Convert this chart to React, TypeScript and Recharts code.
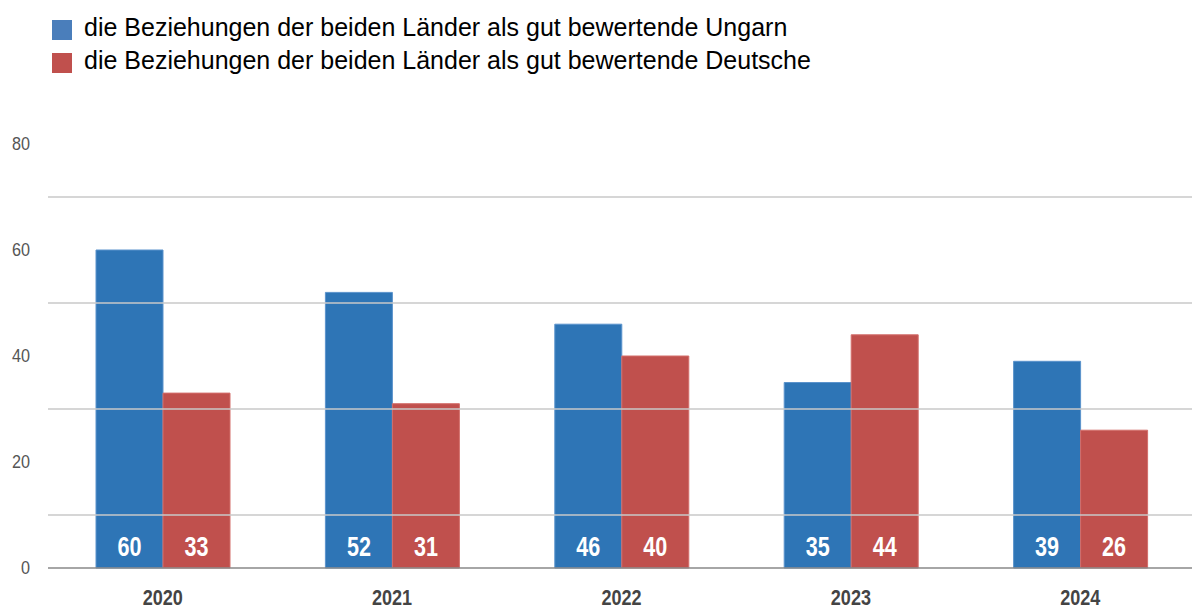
import { BarChart, Bar, XAxis, YAxis, ReferenceLine, LabelList } from "recharts";

const years = ["2020", "2021", "2022", "2023", "2024"];
const ungarn = [60, 52, 46, 35, 39];
const deutsche = [33, 31, 40, 44, 26];
const yTicks = [0, 20, 40, 60, 80];
const gridValues = [10, 30, 50, 70];

const seriesNames = [
  "die Beziehungen der beiden Länder als gut bewertende Ungarn",
  "die Beziehungen der beiden Länder als gut bewertende Deutsche",
];

const BLUE = "#2e75b6";
const RED = "#c0504d";
const FONT = '"Liberation Sans", Arial, sans-serif';

const chartData = years.map((year, i) => ({
  year,
  ungarn: ungarn[i],
  deutsche: deutsche[i],
}));

// condensed look: the original uses a narrow font, which is not installed
const XTick = (props: any) => {
  const { x, payload } = props;
  return (
    <text
      transform={`translate(${x},605) scale(0.82,1)`}
      textAnchor="middle"
      fill="#444"
      fontSize={22}
      fontWeight={700}
      fontFamily={FONT}
    >
      {payload.value}
    </text>
  );
};

const YTick = (props: any) => {
  const { y, payload } = props;
  return (
    <text
      transform={`translate(30,${y}) scale(0.9,1)`}
      textAnchor="end"
      dy="0.355em"
      fill="#555"
      fontSize={18}
      fontFamily={FONT}
    >
      {payload.value}
    </text>
  );
};

const BarValue = (props: any) => {
  const { x, y, width, height, value } = props;
  const cx = Number(x) + Number(width) / 2;
  const base = Number(y) + Number(height) - 12;
  return (
    <text
      transform={`translate(${cx},${base}) scale(0.8,1)`}
      textAnchor="middle"
      fill="#fff"
      fontSize={27}
      fontWeight={700}
      fontFamily={FONT}
    >
      {value}
    </text>
  );
};

const App = () => {
  return (
    <div style={{ position: "absolute", left: 0, top: 0, width: 1192, height: 608, overflow: "hidden", background: "#fff" }}>
      <div
        style={{
          position: "absolute",
          left: 52,
          top: 11,
          fontFamily: FONT,
          fontSize: 25,
          color: "#000",
          lineHeight: "33px",
        }}
      >
        {seriesNames.map((name, i) => (
          <div key={name} style={{ display: "flex", alignItems: "center", whiteSpace: "nowrap" }}>
            <span
              style={{
                display: "inline-block",
                width: 20,
                height: 20,
                marginTop: 4,
                marginRight: 12,
                background: i === 0 ? "#4a7ebb" : RED,
              }}
            />
            {name}
          </div>
        ))}
      </div>
      <BarChart
        width={1195}
        height={608}
        data={chartData}
        margin={{ top: 144, right: 0, bottom: 0, left: 0 }}
        barCategoryGap={48}
        barGap={0}
      >
        {gridValues.map((v) => (
          <ReferenceLine key={v} y={v} stroke="#c8c8c8" strokeWidth={1.5} />
        ))}
        <XAxis
          dataKey="year"
          height={40}
          axisLine={{ stroke: "#888", strokeWidth: 1.5 }}
          tickLine={false}
          tick={<XTick />}
        />
        <YAxis
          width={48}
          domain={[0, 80]}
          ticks={yTicks}
          axisLine={false}
          tickLine={false}
          tick={<YTick />}
        />
        <Bar dataKey="ungarn" fill={BLUE} stroke="#5b93cc" strokeWidth={1} isAnimationActive={false}>
          <LabelList dataKey="ungarn" content={<BarValue />} />
        </Bar>
        <Bar dataKey="deutsche" fill={RED} stroke="#d36e6b" strokeWidth={1} isAnimationActive={false}>
          <LabelList dataKey="deutsche" content={<BarValue />} />
        </Bar>
      </BarChart>
    </div>
  );
};

export default App;
